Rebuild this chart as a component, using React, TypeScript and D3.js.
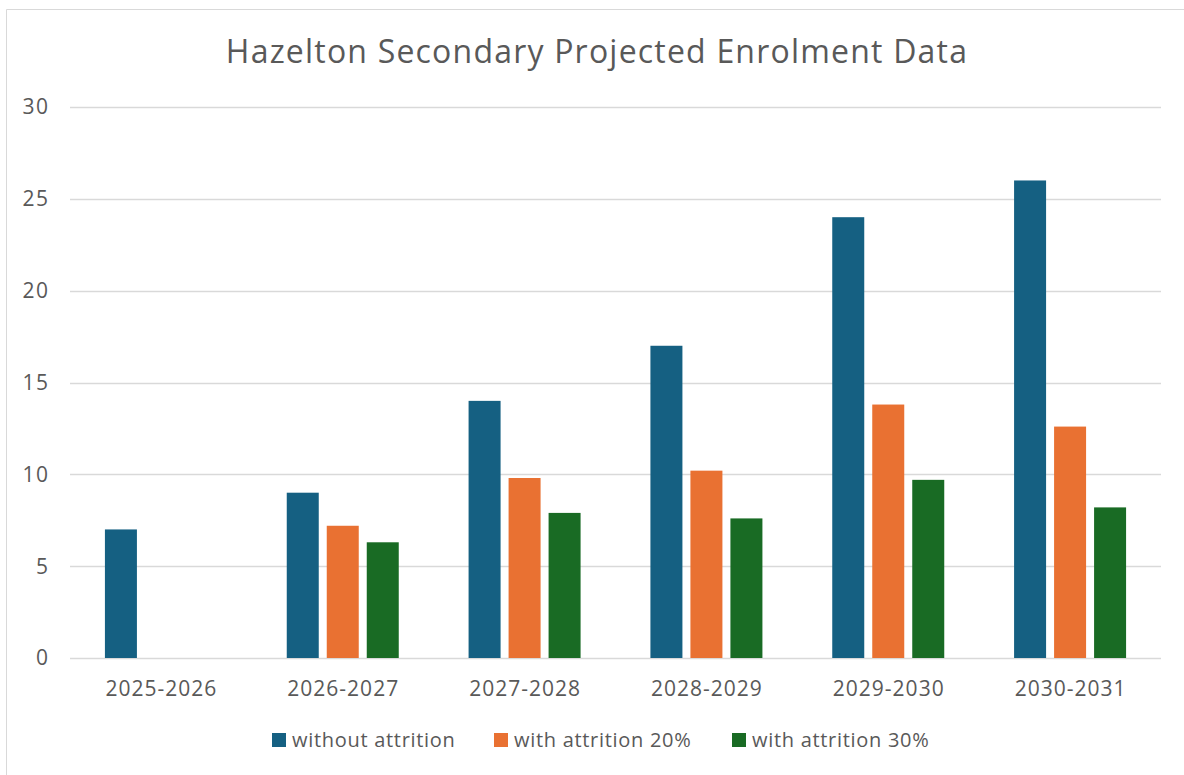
import React, { useRef, useEffect } from 'react';
import * as d3 from 'd3';

// chart data
const categories = ['2025-2026', '2026-2027', '2027-2028', '2028-2029', '2029-2030', '2030-2031'];
const seriesNames = ['without attrition', 'with attrition 20%', 'with attrition 30%'];
const withoutAttrition = [7, 9, 14, 17, 24, 26];
const attrition20 = [null, 7.2, 9.8, 10.2, 13.8, 12.6];
const attrition30 = [null, 6.3, 7.9, 7.6, 9.7, 8.2];
const yTicks = [0, 5, 10, 15, 20, 25, 30];
const colors = ['#156082', '#E97132', '#196B24'];

const FONT = '"Open Sans", "Liberation Sans", Arial, sans-serif';
const TEXT = '#595959';

const App = () => {
  const svgRef = useRef<SVGSVGElement>(null);

  useEffect(() => {
    const svg = d3.select(svgRef.current);
    svg.selectAll('*').remove();

    const W = 1184, H = 775;
    const left = 70, right = 1161, top = 107, bottom = 658;

    // frame
    svg.append('rect').attr('width', W).attr('height', H).attr('fill', '#fff');
    svg.append('path')
      .attr('d', `M6.5,${H} V9.5 H${W}`)
      .attr('fill', 'none')
      .attr('stroke', '#d9d9d9')
      .attr('stroke-width', 1);

    // title
    svg.append('text')
      .attr('x', (226 + 968) / 2)
      .attr('y', 63)
      .attr('text-anchor', 'middle')
      .attr('font-family', FONT)
      .attr('font-size', 32)
      .attr('letter-spacing', 1.2)
      .attr('fill', TEXT)
      .text('Hazelton Secondary Projected Enrolment Data');

    const x0 = d3.scaleBand().domain(categories).range([left, right]);
    const groupW = 112;
    const x1 = d3.scaleBand()
      .domain(seriesNames)
      .range([(x0.bandwidth() - groupW) / 2, (x0.bandwidth() + groupW) / 2])
      .paddingInner(0.2);
    const y = d3.scaleLinear().domain([0, 30]).range([bottom, top]);

    // gridlines
    svg.append('g')
      .selectAll('line')
      .data(yTicks)
      .enter()
      .append('line')
      .attr('x1', left)
      .attr('x2', right)
      .attr('y1', d => Math.round(y(d)) + 0.5)
      .attr('y2', d => Math.round(y(d)) + 0.5)
      .attr('stroke', '#d9d9d9')
      .attr('stroke-width', 1.5);

    // y labels
    svg.append('g')
      .selectAll('text')
      .data(yTicks)
      .enter()
      .append('text')
      .attr('x', 49.5)
      .attr('y', d => y(d))
      .attr('dy', '0.35em')
      .attr('text-anchor', 'end')
      .attr('font-family', FONT)
      .attr('font-size', 21)
      .attr('letter-spacing', 1.5)
      .attr('fill', TEXT)
      .text(d => d);

    // x labels
    svg.append('g')
      .selectAll('text')
      .data(categories)
      .enter()
      .append('text')
      .attr('x', d => (x0(d) as number) + x0.bandwidth() / 2 + 0.5)
      .attr('y', 696)
      .attr('text-anchor', 'middle')
      .attr('font-family', FONT)
      .attr('font-size', 21)
      .attr('letter-spacing', 1)
      .attr('fill', TEXT)
      .text(d => d);

    // bars
    const allSeries = [withoutAttrition, attrition20, attrition30];
    const barData: { cat: string; s: string; v: number; c: string }[] = [];
    categories.forEach((cat, i) => {
      allSeries.forEach((vals, si) => {
        const v = vals[i];
        if (v != null) barData.push({ cat, s: seriesNames[si], v, c: colors[si] });
      });
    });

    svg.append('g')
      .selectAll('rect')
      .data(barData)
      .enter()
      .append('rect')
      .attr('x', d => (x0(d.cat) as number) + (x1(d.s) as number))
      .attr('width', x1.bandwidth())
      .attr('y', d => y(d.v))
      .attr('height', d => y(0) - y(d.v))
      .attr('fill', d => d.c);

    // legend
    const legendX = [272, 494, 732];
    const lg = svg.append('g')
      .selectAll('g')
      .data(seriesNames)
      .enter()
      .append('g')
      .attr('transform', (d, i) => `translate(${legendX[i]},733)`);
    lg.append('rect')
      .attr('width', 14)
      .attr('height', 14)
      .attr('fill', (d, i) => colors[i]);
    lg.append('text')
      .attr('x', 20)
      .attr('y', 7)
      .attr('dy', '0.35em')
      .attr('font-family', FONT)
      .attr('font-size', 20)
      .attr('letter-spacing', 0.7)
      .attr('fill', TEXT)
      .text(d => d);
  }, []);

  return (
    <svg
      ref={svgRef}
      width={1184}
      height={775}
      style={{ position: 'absolute', left: 0, top: 0, display: 'block' }}
    />
  );
};

export default App;
